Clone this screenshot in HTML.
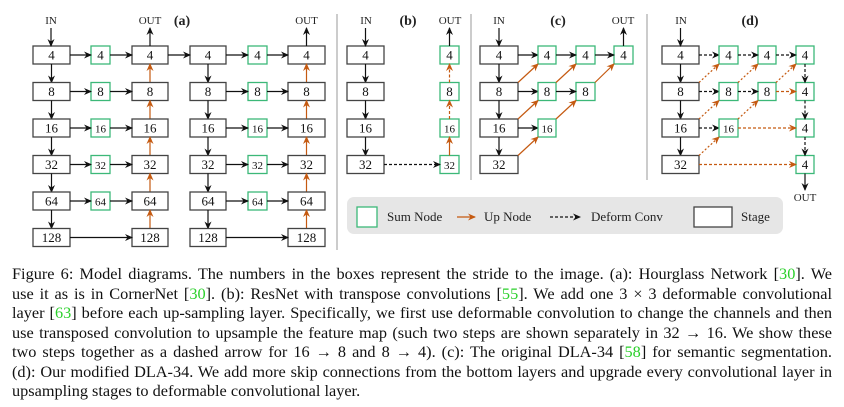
<!DOCTYPE html>
<html><head><meta charset="utf-8">
<style>
body{margin:0;background:#fff;width:844px;height:407px;overflow:hidden;position:relative;font-family:"Liberation Serif",serif;}
#cap{position:absolute;left:12px;top:264px;width:820px;font-size:16.3px;line-height:19.5px;color:#111}
#cap div{white-space:nowrap;text-align:justify;text-align-last:justify;}
#cap div.l{text-align-last:left}
#cap .g{color:#2bd02b}
svg text{font-family:"Liberation Serif",serif}
</style></head><body>
<svg id="s" width="844" height="260" style="position:absolute;left:0;top:0">
<defs>
<marker id="mk" markerWidth="8" markerHeight="8" refX="7" refY="4" orient="auto" markerUnits="userSpaceOnUse"><path d="M0,0.5 L8,4 L0,7.5 L2.5,4 Z" fill="#111"/></marker>
<marker id="mo" markerWidth="8" markerHeight="8" refX="7" refY="4" orient="auto" markerUnits="userSpaceOnUse"><path d="M0,0.5 L8,4 L0,7.5 L2.5,4 Z" fill="#c55a11"/></marker>
</defs>
<g id="g"></g>
</svg>
<div id="cap">
<div>Figure 6: Model diagrams. The numbers in the boxes represent the stride to the image. (a): Hourglass Network [<span class="g">30</span>]. We</div>
<div>use it as is in CornerNet [<span class="g">30</span>]. (b): ResNet with transpose convolutions [<span class="g">55</span>]. We add one 3 × 3 deformable convolutional</div>
<div>layer [<span class="g">63</span>] before each up-sampling layer. Specifically, we first use deformable convolution to change the channels and then</div>
<div>use transposed convolution to upsample the feature map (such two steps are shown separately in 32 → 16. We show these</div>
<div>two steps together as a dashed arrow for 16 → 8 and 8 → 4). (c): The original DLA-34 [<span class="g">58</span>] for semantic segmentation.</div>
<div>(d): Our modified DLA-34. We add more skip connections from the bottom layers and upgrade every convolutional layer in</div>
<div class="l">upsampling stages to deformable convolutional layer.</div>
</div>
<script>
var o='';
var TOP=[46,82.5,119,155.5,192,228.5],H=18;
function cy(i){return TOP[i]+H/2;}
var OR='#c55a11',GR='#3cb878';
function box(x1,x2,i,l,g){var fs=g&&l.length>1?11:13;
o+='<rect x="'+x1+'" y="'+TOP[i]+'" width="'+(x2-x1)+'" height="'+H+'" fill="#fff" stroke="'+(g?GR:'#444')+'" stroke-width="1.3"/>';
o+='<text x="'+(x1+x2)/2+'" y="'+(TOP[i]+13.5)+'" font-size="'+fs+'" text-anchor="middle" fill="#111">'+l+'</text>';}
function ar(x1,y1,x2,y2,c,d){var col=c?OR:'#111';
o+='<line x1="'+x1+'" y1="'+y1+'" x2="'+x2+'" y2="'+y2+'" stroke="'+col+'" stroke-width="1.2"'+(d?' stroke-dasharray="'+d+'"':'')+' marker-end="url(#'+(c?'mo':'mk')+')"/>';}
function t(x,y,s,fs,b){o+='<text x="'+x+'" y="'+y+'" font-size="'+(fs||12)+'" text-anchor="middle" fill="#222"'+(b?' font-weight="bold"':'')+'>'+s+'</text>';}
var L=['4','8','16','32','64','128'];
function hg(a,gx,b){
 for(var i=0;i<6;i++){
  box(a[0],a[1],i,L[i]);box(b[0],b[1],i,L[i]);
  if(i<5){box(gx,gx+19,i,L[i],1);ar(a[1],cy(i),gx,cy(i));ar(gx+19,cy(i),b[0],cy(i));
   ar((a[0]+a[1])/2,TOP[i]+H,(a[0]+a[1])/2,TOP[i+1]);
   ar((b[0]+b[1])/2,TOP[i+1],(b[0]+b[1])/2,TOP[i]+H,1);}
  else ar(a[1],cy(i),b[0],cy(i));
 }
 ar((b[0]+b[1])/2,46,(b[0]+b[1])/2,28);t((b[0]+b[1])/2,24,'OUT',11);
}
hg([33,70],91,[132,168]);hg([190,226],248,[288,325]);
ar(51,28,51,46);t(51,24,'IN',11);t(182,25,'(a)',14,1);
ar(168,cy(0),190,cy(0));
o+='<line x1="337" y1="14" x2="337" y2="250" stroke="#999" stroke-width="1"/>';
o+='<line x1="471" y1="14" x2="471" y2="180" stroke="#999" stroke-width="1"/>';
o+='<line x1="647" y1="14" x2="647" y2="180" stroke="#999" stroke-width="1"/>';
for(var i=0;i<4;i++){box(347,384,i,L[i]);box(440,459,i,L[i],1);if(i<3)ar(365.5,TOP[i]+H,365.5,TOP[i+1]);}
ar(365.5,28,365.5,46);t(366,24,'IN',11);t(408,25,'(b)',14,1);
ar(384,cy(3),440,cy(3),0,'3,2');
ar(449.5,TOP[3],449.5,TOP[2]+H,1);ar(449.5,TOP[2],449.5,TOP[1]+H,1,'3,2');ar(449.5,TOP[1],449.5,TOP[0]+H,1,'3,2');
ar(449.5,46,449.5,28);t(450,24,'OUT',11);
var cg=[[538,556],[576,595],[614,633]];
for(i=0;i<4;i++){box(480,518,i,L[i]);if(i<3)ar(499,TOP[i]+H,499,TOP[i+1]);}
ar(499,28,499,46);t(499,24,'IN',11);t(558,25,'(c)',14,1);
for(i=0;i<3;i++){ar(518,cy(i),538,cy(i));for(var j=0;j<3-i;j++){box(cg[j][0],cg[j][1],i,L[i],1);if(j>0)ar(cg[j-1][1],cy(i),cg[j][0],cy(i));}}
for(i=0;i<3;i++){ar(518,TOP[i+1],538,TOP[i]+H,1);for(j=1;j<3-i;j++)ar(cg[j-1][1],TOP[i+1],cg[j][0],TOP[i]+H,1);}
ar(623.5,46,623.5,28);t(623,24,'OUT',11);
for(i=0;i<4;i++){box(662,699,i,L[i]);if(i<3)ar(680.5,TOP[i]+H,680.5,TOP[i+1]);}
ar(680.5,28,680.5,46);t(681,24,'IN',11);t(750,25,'(d)',14,1);
for(i=0;i<3;i++){ar(699,cy(i),719,cy(i),0,'3,2');}
box(719,738,0,'4',1);box(758,776,0,'4',1);box(796,814,0,'4',1);
box(719,738,1,'8',1);box(758,776,1,'8',1);box(796,814,1,'4',1);
box(719,738,2,'16',1);box(796,814,2,'4',1);box(796,814,3,'4',1);
ar(738,cy(0),758,cy(0),0,'3,2');ar(776,cy(0),796,cy(0),0,'3,2');
ar(738,cy(1),758,cy(1),0,'3,2');ar(776,cy(1),796,cy(1),1,'3,2');
ar(738,cy(2),796,cy(2),1,'3,2');ar(699,cy(3),796,cy(3),1,'3,2');
ar(699,TOP[1],719,TOP[0]+H,1,'2,2');ar(738,TOP[1],758,TOP[0]+H,1,'2,2');ar(776,TOP[1],796,TOP[0]+H,1,'2,2');
ar(699,TOP[2],719,TOP[1]+H,1,'2,2');ar(738,TOP[2],758,TOP[1]+H,1,'2,2');
ar(699,TOP[3],719,TOP[2]+H,1,'2,2');
for(i=0;i<3;i++)ar(805,TOP[i]+H,805,TOP[i+1],0,'3,2');
ar(805,TOP[3]+H,805,190);t(805,201,'OUT',11);
o+='<rect x="347" y="197" width="436" height="37" rx="7" fill="#e6e6e6"/>';
o+='<rect x="357" y="207" width="20" height="20" fill="#fff" stroke="'+GR+'" stroke-width="1.3"/>';
o+='<text x="387" y="221" font-size="13" fill="#222">Sum Node</text>';
ar(457,217,475,217,1);
o+='<text x="484" y="221" font-size="13" fill="#222">Up Node</text>';
ar(550,217,580,217,0,'3,2');
o+='<text x="591" y="221" font-size="13" fill="#222">Deform Conv</text>';
o+='<rect x="694" y="207" width="38" height="20" fill="#fff" stroke="#444" stroke-width="1.3"/>';
o+='<text x="741" y="221" font-size="13" fill="#222">Stage</text>';
document.getElementById('g').innerHTML=o;
</script>
</body></html>
